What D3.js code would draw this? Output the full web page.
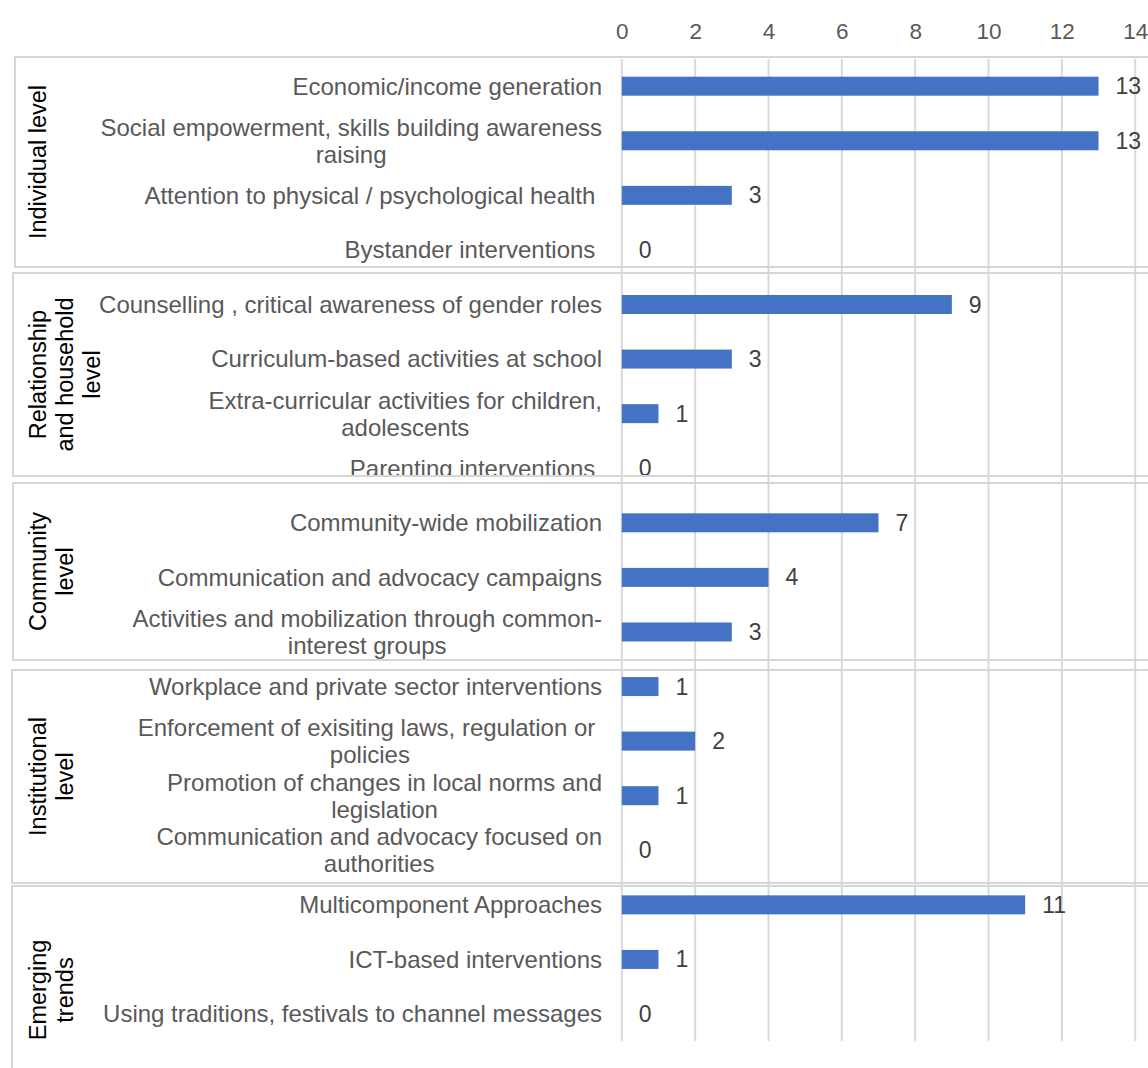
<!DOCTYPE html>
<html>
<head>
<meta charset="utf-8">
<script src="https://cdn.jsdelivr.net/npm/d3@7"></script>
<style>
  html, body { margin: 0; padding: 0; background: #fff; }
  svg { display: block; font-family: "Liberation Sans", Arial, sans-serif; }
  text { white-space: pre; }
</style>
</head>
<body>
<svg id="chart" width="1148" height="1068"></svg>
<script>
// Intervention types, grouped by ecological level (lines separated by "\n")
const categories = [
  "Economic/income generation",
  "Social empowerment, skills building awareness\nraising",
  "Attention to physical / psychological health ",
  "Bystander interventions ",
  "Counselling , critical awareness of gender roles",
  "Curriculum-based activities at school",
  "Extra-curricular activities for children,\nadolescents",
  "Parenting interventions ",
  "Community-wide mobilization",
  "Communication and advocacy campaigns",
  "Activities and mobilization through common-\ninterest groups",
  "Workplace and private sector interventions",
  "Enforcement of exisiting laws, regulation or \npolicies",
  "Promotion of changes in local norms and\nlegislation",
  "Communication and advocacy focused on\nauthorities",
  "Multicomponent Approaches",
  "ICT-based interventions",
  "Using traditions, festivals to channel messages"
];

// Number of interventions per type
const values = [13, 13, 3, 0, 9, 3, 1, 0, 7, 4, 3, 1, 2, 1, 0, 11, 1, 0];

// Level each type belongs to (index into groups)
const groupIndex = [0, 0, 0, 0, 1, 1, 1, 1, 2, 2, 2, 3, 3, 3, 3, 4, 4, 4];

const groups = [
  "Individual level",
  "Relationship\nand household\nlevel",
  "Community\nlevel",
  "Institutional\nlevel",
  "Emerging\ntrends"
];

const tickValues = [0, 2, 4, 6, 8, 10, 12, 14];

// ---- layout ----
const W = 1148, H = 1068;
const plot = { left: 621.8, right: 1135.2, top: 58.9, bottom: 1041.3 };
const labelRight = 602;
const gridColor = "#d9d9d9";
const boxColor = "#d6d6d6";
const barColor = "#4472C4";
const fontCat = 24, fontTick = 22.5, fontVal = 23, fontGroup = 23.5;
const lineH = 27;
// frames around each level on the category axis
const boxTop    = [57, 273, 483, 670, 886];
const boxBottom = [267, 476, 660, 883, 1094];
const boxLeft   = [15, 13, 13, 12, 12];

const svg = d3.select("#chart");

const x = d3.scaleLinear().domain([0, 14]).range([plot.left, plot.right]);
const y = d3.scaleBand()
  .domain(d3.range(categories.length))
  .range([plot.top, plot.bottom])
  .paddingInner(0.652)
  .paddingOuter(0.326);

// Clip regions per level
const defs = svg.append("defs");
groups.forEach((g, i) => {
  defs.append("clipPath").attr("id", "clip-g" + i)
    .append("rect")
    .attr("x", 0).attr("y", boxTop[i])
    .attr("width", W).attr("height", boxBottom[i] - boxTop[i]);
});

// Vertical gridlines
svg.append("g").selectAll("line")
  .data(tickValues)
  .join("line")
  .attr("x1", d => x(d)).attr("x2", d => x(d))
  .attr("y1", plot.top).attr("y2", plot.bottom)
  .attr("stroke", gridColor).attr("stroke-width", 2);

// Top value axis
const axis = d3.axisTop(x).tickValues(tickValues).tickSize(0).tickPadding(0);
const axG = svg.append("g").attr("transform", "translate(0,31)").call(axis);
axG.select(".domain").remove();
axG.selectAll("text")
  .attr("font-size", fontTick)
  .attr("font-family", "Liberation Sans, Arial, sans-serif")
  .attr("fill", "#595959")
  .attr("dy", "0.35em");

// Bars
svg.append("g").selectAll("rect")
  .data(values)
  .join("rect")
  .attr("x", x(0))
  .attr("y", (d, i) => y(i))
  .attr("width", d => x(d) - x(0))
  .attr("height", y.bandwidth())
  .attr("fill", barColor);

const mid = i => y(i) + y.bandwidth() / 2;

// Value labels
values.forEach((v, i) => {
  svg.append("text")
    .attr("clip-path", "url(#clip-g" + groupIndex[i] + ")")
    .attr("x", x(v) + 17)
    .attr("y", mid(i))
    .attr("dy", "0.35em")
    .attr("font-size", fontVal)
    .attr("fill", "#404040")
    .text(v);
});

// Category labels: block right-aligned, lines centered within the block
categories.forEach((c, i) => {
  const lines = c.split("\n");
  const g = svg.append("g").attr("clip-path", "url(#clip-g" + groupIndex[i] + ")");
  const texts = lines.map((ln, k) => g.append("text")
    .attr("font-size", fontCat)
    .attr("fill", "#595959")
    .attr("y", mid(i) + (k - (lines.length - 1) / 2) * lineH)
    .attr("dy", "0.35em")
    .text(ln));
  const maxW = d3.max(texts, t => t.node().getComputedTextLength());
  texts.forEach(t => t.attr("text-anchor", "middle").attr("x", labelRight - maxW / 2));
});

// Level frames
groups.forEach((g, i) => {
  svg.append("rect")
    .attr("x", boxLeft[i]).attr("y", boxTop[i])
    .attr("width", W + 20 - boxLeft[i])
    .attr("height", boxBottom[i] - boxTop[i])
    .attr("fill", "none")
    .attr("stroke", boxColor).attr("stroke-width", 2);
});

// Level names, rotated
groups.forEach((g, i) => {
  const lines = g.split("\n");
  const cy = (boxTop[i] + boxBottom[i]) / 2;
  lines.forEach((ln, k) => {
    svg.append("text")
      .attr("transform", `translate(${46 + k * lineH},${cy}) rotate(-90)`)
      .attr("text-anchor", "middle")
      .attr("font-size", fontGroup)
      .attr("fill", "#000")
      .text(ln);
  });
});
</script>
</body>
</html>
